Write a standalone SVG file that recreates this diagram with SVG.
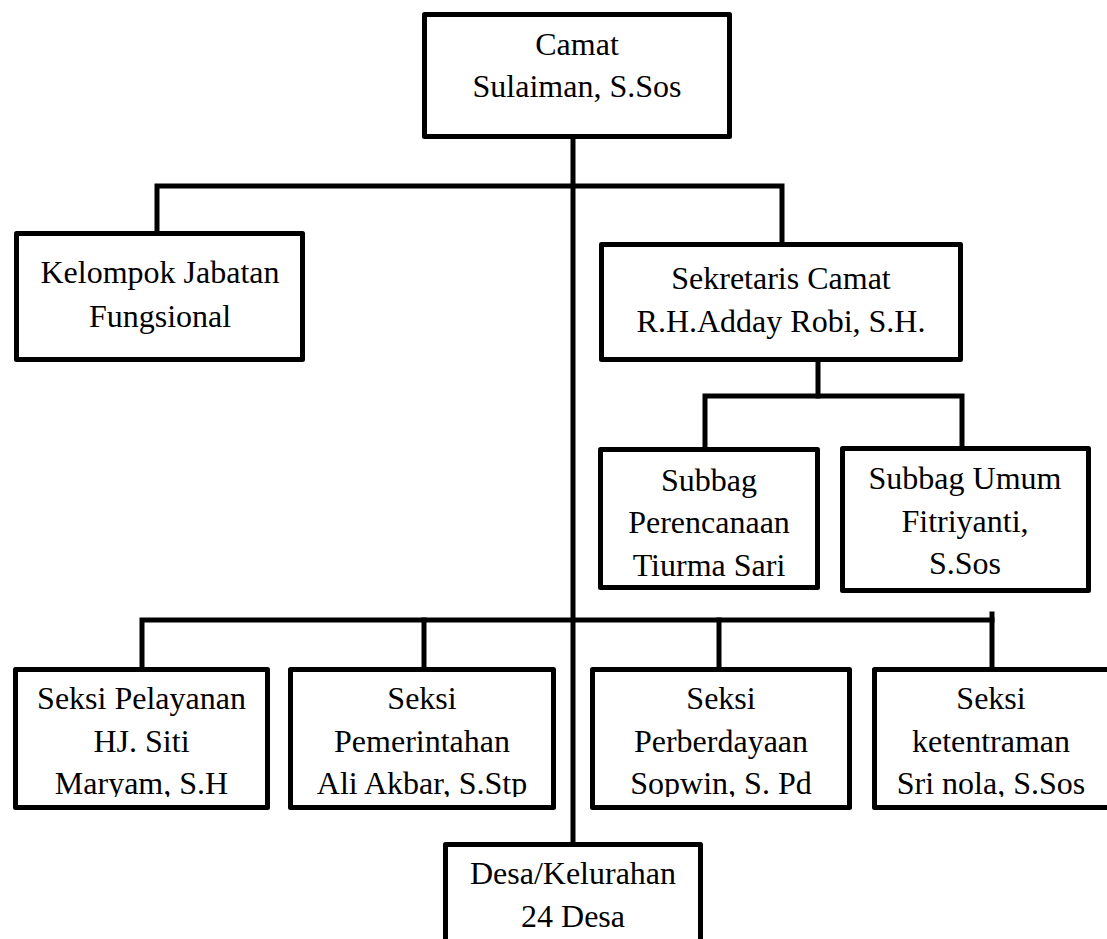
<svg xmlns="http://www.w3.org/2000/svg" width="1107" height="939" viewBox="0 0 1107 939">
<style>
.box{fill:#fff;stroke:#000;stroke-width:5;stroke-linejoin:round}
.ln{fill:none;stroke:#000;stroke-width:5;stroke-linecap:square}
text{font-family:"Liberation Serif","Times New Roman",serif;font-size:32px;fill:#000;text-anchor:middle}
</style>
<defs>
<clipPath id="rowclip"><rect x="0" y="660" width="1107" height="137"/></clipPath>
</defs>
<rect width="1107" height="939" fill="#fff"/>
<g id="connectors">
<path class="ln" d="M573,137 V844"/>
<path class="ln" d="M157,233 V186 H782 V244"/>
<path class="ln" d="M818,360 V396"/>
<path class="ln" d="M705,449 V396 H962 V448"/>
<path class="ln" d="M142,669 V620 H992"/>
<path class="ln" d="M992,614 V669"/>
<path class="ln" d="M424,620 V676"/>
<path class="ln" d="M719,620 V669"/>
</g>
<g id="camat">
<rect class="box" x="424.5" y="14.5" width="305" height="122"/>
<text x="577" y="55">Camat</text>
<text x="577" y="97">Sulaiman, S.Sos</text>
</g>
<g id="kelompok">
<rect class="box" x="16.5" y="233.5" width="286" height="126"/>
<text x="160" y="283">Kelompok Jabatan</text>
<text x="160" y="327">Fungsional</text>
</g>
<g id="sekretaris">
<rect class="box" x="601.5" y="244.5" width="359" height="115"/>
<text x="781" y="289">Sekretaris Camat</text>
<text x="781" y="332">R.H.Adday Robi, S.H.</text>
</g>
<g id="subbag-perencanaan">
<rect class="box" x="600.5" y="449.5" width="217" height="138"/>
<text x="709" y="491">Subbag</text>
<text x="709" y="533">Perencanaan</text>
<text x="709" y="576">Tiurma Sari</text>
</g>
<g id="subbag-umum">
<rect class="box" x="842.5" y="448.5" width="246" height="142"/>
<text x="965" y="489">Subbag Umum</text>
<text x="965" y="532">Fitriyanti,</text>
<text x="965" y="574">S.Sos</text>
</g>
<g id="seksi-pelayanan">
<rect class="box" x="15.5" y="669.5" width="252" height="138"/>
<g clip-path="url(#rowclip)">
<text x="141.5" y="709">Seksi Pelayanan</text>
<text x="141.5" y="752">HJ. Siti</text>
<text x="141.5" y="794">Maryam, S.H</text>
</g>
</g>
<g id="seksi-pemerintahan">
<rect class="box" x="290.5" y="669.5" width="263" height="138"/>
<g clip-path="url(#rowclip)">
<text x="422" y="709">Seksi</text>
<text x="422" y="752">Pemerintahan</text>
<text x="422" y="794">Ali Akbar, S.Stp</text>
</g>
</g>
<g id="seksi-perberdayaan">
<rect class="box" x="592.5" y="669.5" width="257" height="138"/>
<g clip-path="url(#rowclip)">
<text x="721" y="709">Seksi</text>
<text x="721" y="752">Perberdayaan</text>
<text x="721" y="794">Sopwin, S. Pd</text>
</g>
</g>
<g id="seksi-ketentraman">
<rect class="box" x="874.5" y="669.5" width="235" height="138"/>
<g clip-path="url(#rowclip)">
<text x="991" y="709">Seksi</text>
<text x="991" y="752">ketentraman</text>
<text x="991" y="794">Sri nola, S.Sos</text>
</g>
</g>
<g id="desa">
<rect class="box" x="445.5" y="844.5" width="255" height="120"/>
<text x="573" y="884">Desa/Kelurahan</text>
<text x="573" y="927">24 Desa</text>
</g>
</svg>
